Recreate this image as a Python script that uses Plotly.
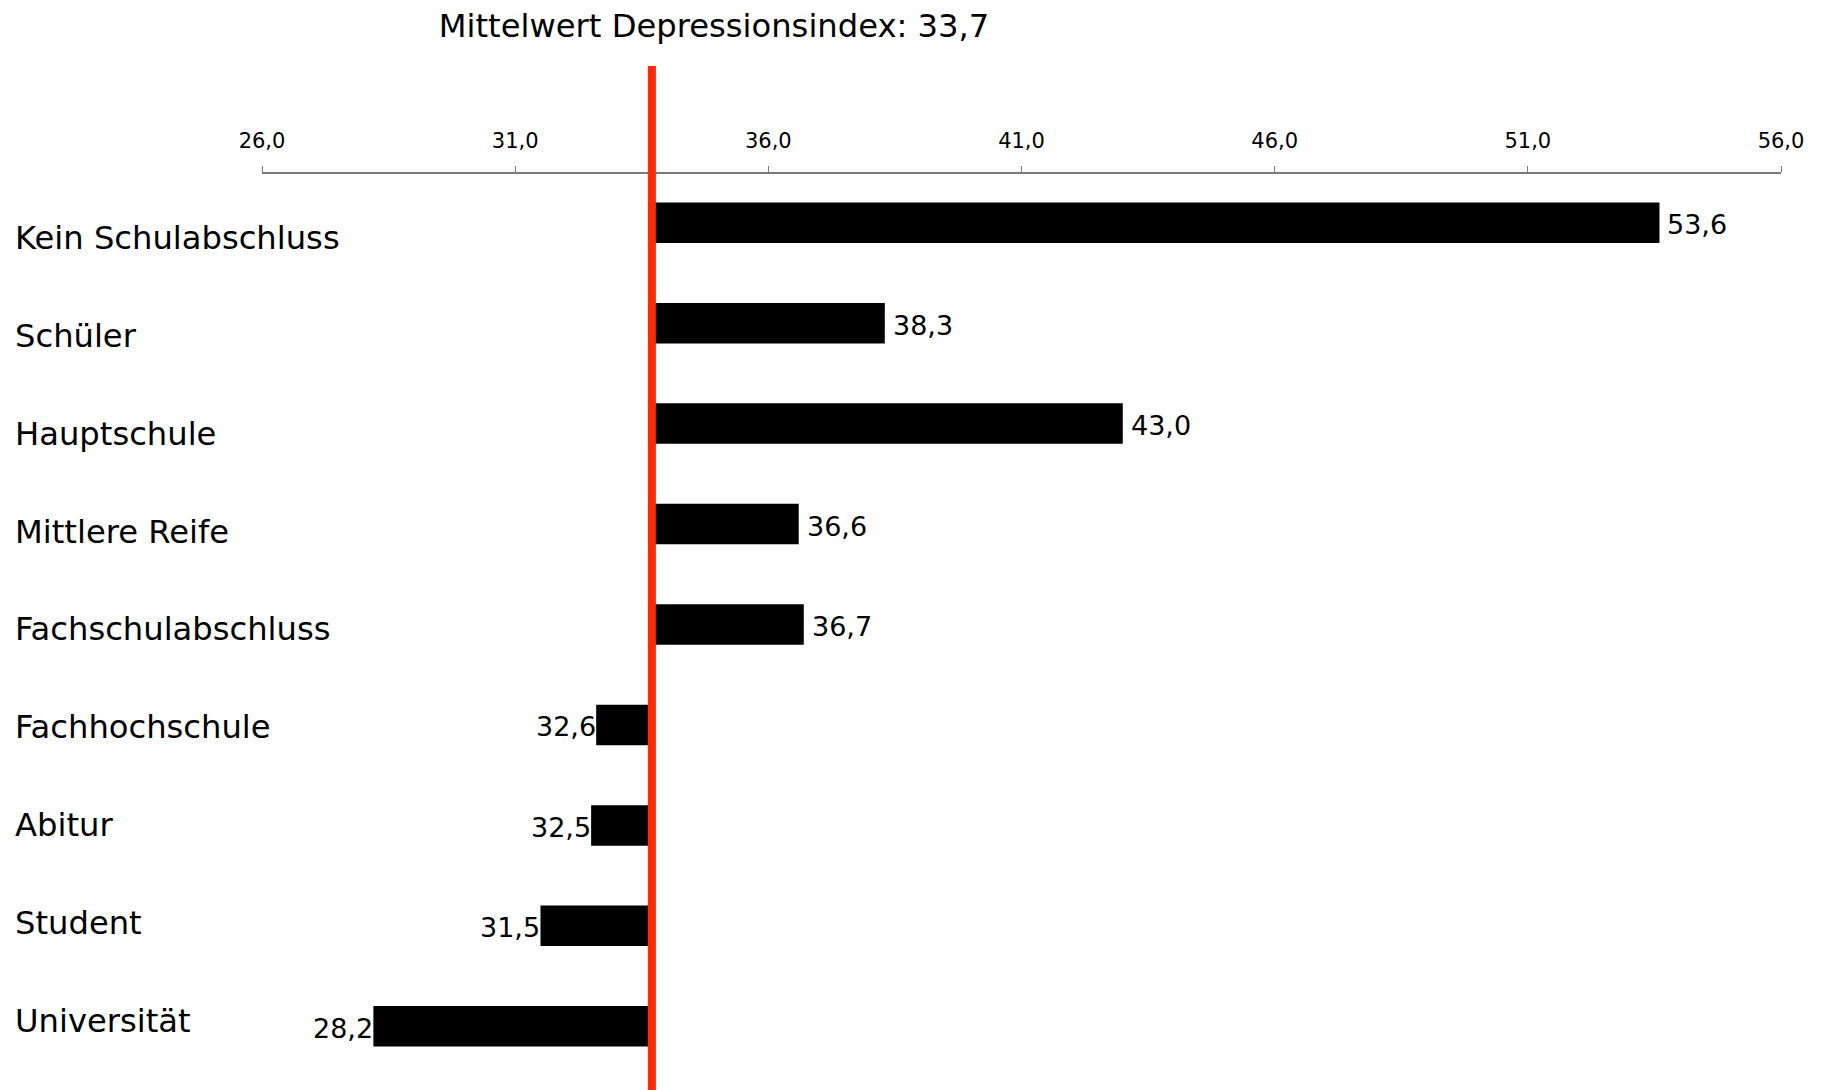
import plotly.graph_objects as go

categories = ["Kein Schulabschluss", "Schüler", "Hauptschule", "Mittlere Reife",
              "Fachschulabschluss", "Fachhochschule", "Abitur", "Student", "Universität"]
values = [53.6, 38.3, 43.0, 36.6, 36.7, 32.6, 32.5, 31.5, 28.2]
mean_value = 33.7
title_text = "Mittelwert Depressionsindex: 33,7"
tick_values = [26, 31, 36, 41, 46, 51, 56]
tick_labels = ["26,0", "31,0", "36,0", "41,0", "46,0", "51,0", "56,0"]

FONT = "DejaVu Sans"
W, H = 1827, 1090
ML, MR, MT, MB = 262, 46, 66, 0

fmt = lambda v: f"{v:.1f}".replace(".", ",")

fig = go.Figure()
fig.add_trace(go.Bar(
    y=categories,
    x=[v - mean_value for v in values],
    base=mean_value,
    orientation="h",
    marker=dict(color="black", line=dict(width=0)),
    showlegend=False,
    hoverinfo="skip",
))

annotations = []
# value labels
for i, v in enumerate(values):
    pos = v >= mean_value
    annotations.append(dict(
        x=v, y=i, xref="x", yref="y",
        text=fmt(v), showarrow=False,
        xanchor="left" if pos else "right", yanchor="middle",
        xshift=8 if pos else 0, yshift=-2,
        borderpad=0, borderwidth=0,
        font=dict(family=FONT, size=27, color="black"),
    ))
# category labels (left aligned, on overlay axis y2)
for i, c in enumerate(categories):
    annotations.append(dict(
        x=(15 - ML) / (W - ML - MR), y=i, xref="paper", yref="y2",
        text=c, showarrow=False,
        xanchor="left", yanchor="middle",
        borderpad=0, borderwidth=0,
        font=dict(family=FONT, size=32.2, color="black"),
    ))

plot_h = H - MT - MB
axis_pos = 1 - (172.5 - MT) / plot_h

fig.update_layout(
    width=W, height=H,
    margin=dict(l=ML, r=MR, t=MT, b=MB, pad=0),
    paper_bgcolor="white", plot_bgcolor="white",
    bargap=0.597,
    font=dict(family=FONT, color="black"),
    title=dict(text=title_text, xref="container", x=714 / W, xanchor="center",
               yref="container", y=1 - 26 / H, yanchor="middle",
               font=dict(family=FONT, size=32.2, color="black")),
    xaxis=dict(
        range=[26, 56], side="top", anchor="free", position=axis_pos,
        tickvals=tick_values, ticktext=tick_labels,
        showgrid=False, zeroline=False,
        showline=True, linecolor="#7a7a7a", linewidth=2,
        ticks="outside", ticklen=6, tickwidth=1, tickcolor="#7a7a7a",
        ticklabelstandoff=9,
        tickfont=dict(family=FONT, size=21, color="black"),
        fixedrange=True,
    ),
    yaxis=dict(
        type="category", categoryorder="array", categoryarray=categories,
        range=[8.634, -1.560],
        showticklabels=False, showgrid=False, zeroline=False, showline=False, ticks="",
        fixedrange=True,
    ),
    yaxis2=dict(
        type="linear", overlaying="y", range=[8.705, -1.756],
        visible=False, showgrid=False, zeroline=False, fixedrange=True,
    ),
    annotations=annotations,
    shapes=[dict(type="line", xref="x", yref="paper",
                 x0=mean_value, x1=mean_value, y0=0, y1=1,
                 line=dict(color="#ff2a00", width=8), layer="above")],
)

fig.write_html(
    "out.html",
    config={"displayModeBar": False},
    post_script="document.body.style.margin='0';document.body.style.overflow='hidden';",
)
